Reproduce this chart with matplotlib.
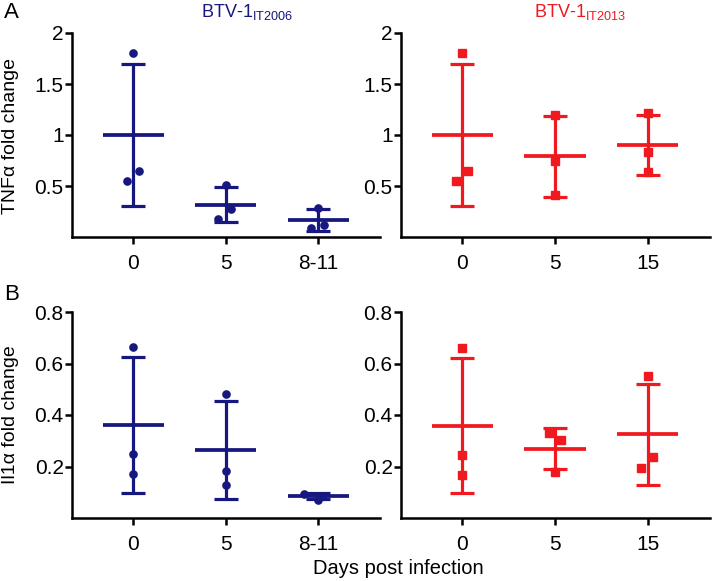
"""Cytokine fold change after BTV-1 infection, two strains, two panels each."""
import matplotlib
matplotlib.use("Agg")
import matplotlib.pyplot as plt

plt.rcParams["font.family"] = ["Liberation Sans", "DejaVu Sans"]
plt.rcParams["mathtext.fontset"] = "custom"
plt.rcParams["mathtext.rm"] = "Liberation Sans"

NAVY = "#16177f"
RED = "#f01920"

# ── Data ──────────────────────────────────────────────────────────────────────
days_2006 = ["0", "5", "8-11"]
days_2013 = ["0", "5", "15"]

tnf_2006_pts = [[1.807, 0.548, 0.646], [0.508, 0.275, 0.18], [0.285, 0.115, 0.085]]
tnf_2006_mean = [1.0, 0.318, 0.167]
tnf_2006_sd = [0.70, 0.168, 0.11]

tnf_2013_pts = [[1.80, 0.55, 0.65], [1.20, 0.75, 0.41], [1.22, 0.83, 0.64]]
tnf_2013_mean = [1.0, 0.79, 0.90]
tnf_2013_sd = [0.70, 0.40, 0.295]

il1_2006_pts = [[0.665, 0.248, 0.171], [0.483, 0.182, 0.127], [0.095, 0.069, 0.084]]
il1_2006_mean = [0.362, 0.265, 0.086]
il1_2006_sd = [0.263, 0.19, 0.013]

il1_2013_pts = [[0.662, 0.244, 0.168], [0.331, 0.301, 0.178], [0.55, 0.235, 0.193]]
il1_2013_mean = [0.359, 0.269, 0.325]
il1_2013_sd = [0.263, 0.08, 0.195]

# horizontal scatter offsets of the dots (as drawn in the original)
jit_tnf_2006 = [[0, -0.07, 0.065], [0, 0.054, -0.083], [0, 0.06, -0.075]]
jit_tnf_2013 = [[0, -0.07, 0.065], [0, 0, 0], [0, 0, 0]]
jit_il1_2006 = [[0, 0, 0], [0, 0, 0], [-0.15, 0, 0.04]]
jit_il1_2013 = [[0, 0, 0], [-0.065, 0.061, 0], [0, 0.061, -0.072]]

# ── Figure ────────────────────────────────────────────────────────────────────
fig = plt.figure(figsize=(7.2, 5.81), dpi=100)
W, H = 720, 581


def px_axes(x0, x1, y0, y1):
    return fig.add_axes([x0 / W, 1 - y1 / H, (x1 - x0) / W, (y1 - y0) / H])


def draw_panel(ax, pts, mean, sd, jit, labels, color, marker, ymax, yticks, yticklabels):
    for i, (vals, offs) in enumerate(zip(pts, jit)):
        ax.plot([i + o for o in offs], vals, linestyle="none", marker=marker,
                color=color, markersize=5.2, zorder=3)
    xs = list(range(len(mean)))
    ax.errorbar(xs, mean, yerr=sd, fmt="none", ecolor=color, elinewidth=2.3,
                capsize=8.5, capthick=2.3, zorder=2)
    ax.hlines(mean, [x - 0.33 for x in xs], [x + 0.33 for x in xs],
              color=color, linewidth=2.7, zorder=2)
    ax.set_xlim(-0.66, 2.67)
    ax.set_ylim(0, ymax)
    ax.set_xticks(xs)
    ax.set_xticklabels(labels)
    ax.set_yticks(yticks)
    ax.set_yticklabels(yticklabels)
    for s in ("top", "right"):
        ax.spines[s].set_visible(False)
    for s in ("left", "bottom"):
        ax.spines[s].set_linewidth(1.8)
    ax.spines["left"].set_capstyle("projecting")
    ax.tick_params(axis="both", width=1.8, length=5, labelsize=15, colors="black")
    ax.tick_params(axis="y", pad=1)
    ax.tick_params(axis="x", pad=7)
    ax.patch.set_alpha(0)


top_ticks = [0.5, 1, 1.5, 2]
top_lbls = ["0.5", "1", "1.5", "2"]
bot_ticks = [0.2, 0.4, 0.6, 0.8]
bot_lbls = ["0.2", "0.4", "0.6", "0.8"]

ax1 = px_axes(72, 380, 33, 237)
draw_panel(ax1, tnf_2006_pts, tnf_2006_mean, tnf_2006_sd, jit_tnf_2006,
           days_2006, NAVY, "o", 2, top_ticks, top_lbls)
ax2 = px_axes(401, 710, 33, 237)
draw_panel(ax2, tnf_2013_pts, tnf_2013_mean, tnf_2013_sd, jit_tnf_2013,
           days_2013, RED, "s", 2, top_ticks, top_lbls)
ax3 = px_axes(72, 380, 312, 518)
draw_panel(ax3, il1_2006_pts, il1_2006_mean, il1_2006_sd, jit_il1_2006,
           days_2006, NAVY, "o", 0.8, bot_ticks, bot_lbls)
ax4 = px_axes(401, 710, 312, 518)
draw_panel(ax4, il1_2013_pts, il1_2013_mean, il1_2013_sd, jit_il1_2013,
           days_2013, RED, "s", 0.8, bot_ticks, bot_lbls)

# ── Labels ────────────────────────────────────────────────────────────────────
fig.text(247 / W, 1 - 17 / H, r"BTV-1$_{\mathrm{IT2006}}$", color=NAVY,
         fontsize=13, ha="center", va="baseline")
fig.text(580 / W, 1 - 17 / H, r"BTV-1$_{\mathrm{IT2013}}$", color=RED,
         fontsize=13, ha="center", va="baseline")

fig.text(4 / W, 1 - 13 / H, "A", fontsize=16, ha="left", va="center")
fig.text(4 / W, 1 - 294 / H, "B", fontsize=16, ha="left", va="center")

fig.text(11 / W, 1 - 136 / H, "TNFα fold change", fontsize=14,
         rotation=90, ha="center", va="center")
fig.text(11 / W, 1 - 415 / H, "Il1α fold change", fontsize=14,
         rotation=90, ha="center", va="center")

fig.text(398 / W, 1 - 569 / H, "Days post infection", fontsize=14.5,
         ha="center", va="center")

fig.savefig("out.png", dpi=100)
